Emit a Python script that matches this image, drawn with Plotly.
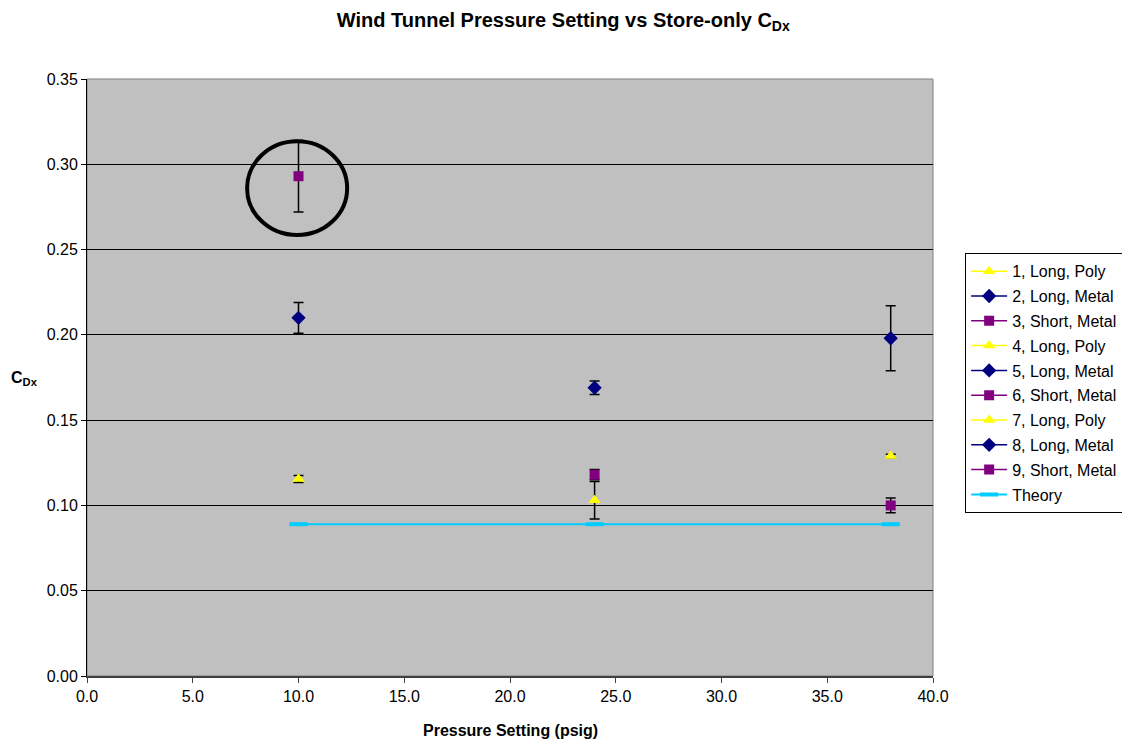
import plotly.graph_objects as go

# Pressure settings (psig) and measured store-only CDx with error bars
pressure = [10, 24, 38]
long_poly = [0.1155, 0.103, 0.129]
long_poly_err = [0.002, 0.011, 0.001]
long_metal = [0.210, 0.169, 0.198]
long_metal_err = [0.009, 0.004, 0.019]
short_metal = [0.293, 0.118, 0.100]
short_metal_err = [0.021, 0.003, 0.0043]
theory = [0.089, 0.089, 0.089]

labels = ["1, Long, Poly", "2, Long, Metal", "3, Short, Metal",
          "4, Long, Poly", "5, Long, Metal", "6, Short, Metal",
          "7, Long, Poly", "8, Long, Metal", "9, Short, Metal"]

y_ticks = [0.00, 0.05, 0.10, 0.15, 0.20, 0.25, 0.30, 0.35]
x_ticks = [0, 5, 10, 15, 20, 25, 30, 35, 40]

FONT = "Liberation Sans, Arial, sans-serif"
YELLOW = "#FFFF00"
NAVY = "#000080"
PURPLE = "#800080"
CYAN = "#00CCFF"

styles = [
    (long_poly, long_poly_err, YELLOW, "triangle-up", 11),
    (long_metal, long_metal_err, NAVY, "diamond", 11),
    (short_metal, short_metal_err, PURPLE, "square", 10),
]

fig = go.Figure()

# one trace per test run: runs 1-3 at the first pressure, 4-6 at the second, 7-9 at the third
for i, label in enumerate(labels):
    p = i // 3
    vals, errs, color, symbol, size = styles[i % 3]
    fig.add_trace(go.Scatter(
        x=[pressure[p]], y=[vals[p]], name=label, mode="lines+markers",
        legendgroup=f"g{i}",
        line=dict(color=color, width=1.5),
        marker=dict(symbol=symbol, size=size, color=color),
        error_y=dict(type="data", array=[errs[p]], color="black", thickness=1.5, width=5),
    ))

fig.add_trace(go.Scatter(
    x=pressure, y=theory, name="Theory", mode="lines+markers", legendgroup="g9",
    line=dict(color=CYAN, width=2),
    marker=dict(symbol="line-ew", size=13, color=CYAN, line=dict(color=CYAN, width=4)),
))

# plot area border
fig.add_shape(type="rect", xref="paper", yref="paper", x0=0, x1=1, y0=0, y1=1,
              line=dict(color="#808080", width=1), layer="below")

# highlight ellipse around the outlier
fig.add_shape(type="circle", xref="x", yref="y", x0=7.57, x1=12.30, y0=0.2585, y1=0.3135,
              line=dict(color="black", width=4))

fig.add_annotation(text="<b>C<sub>Dx</sub></b>", xref="paper", yref="paper",
                   x=-0.074, y=0.499, xanchor="center", yanchor="middle", showarrow=False,
                   font=dict(family=FONT, size=16, color="black"))
fig.add_annotation(text="<b>Pressure Setting (psig)</b>", xref="paper", yref="paper",
                   x=0.5, y=-0.092, xanchor="center", yanchor="middle", showarrow=False,
                   font=dict(family=FONT, size=16, color="black"))

fig.update_layout(
    width=1122, height=740,
    paper_bgcolor="white", plot_bgcolor="#C0C0C0",
    margin=dict(l=87, r=189, t=79, b=64, autoexpand=False),
    font=dict(family=FONT, size=16, color="black"),
    title=dict(text="<b>Wind Tunnel Pressure Setting vs Store-only C<sub>Dx</sub></b>",
               x=0.502, xanchor="center", y=0.973, yanchor="middle",
               font=dict(family=FONT, size=20, color="black")),
    xaxis=dict(range=[0, 40], tickvals=x_ticks, ticktext=[f"{v:.1f}" for v in x_ticks],
               showgrid=False, zeroline=False, showline=True, linecolor="#404040", linewidth=2,
               ticks="outside", ticklen=5, tickcolor="#404040", tickfont=dict(size=16)),
    yaxis=dict(range=[0, 0.35], tickvals=y_ticks, ticktext=[f"{v:.2f}" for v in y_ticks],
               showgrid=True, gridcolor="black", gridwidth=1, zeroline=False,
               showline=True, linecolor="black", linewidth=1,
               ticks="outside", ticklen=5, tickcolor="black", tickfont=dict(size=16)),
    legend=dict(x=1.038, y=0.708, xanchor="left", yanchor="top",
                bgcolor="white", bordercolor="black", borderwidth=1,
                font=dict(family=FONT, size=16, color="black"),
                tracegroupgap=1, itemwidth=36),
    showlegend=True,
)

# drop the default page margin so the figure fills the window exactly
fig.write_html("out.html", config={"displayModeBar": False},
               post_script="document.body.style.margin='0';document.body.style.overflow='hidden';")
